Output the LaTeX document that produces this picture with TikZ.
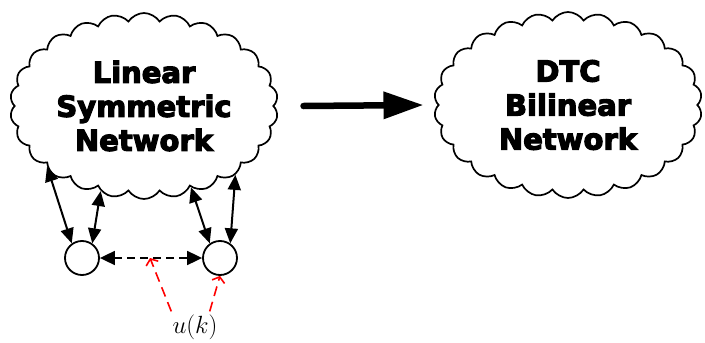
\documentclass[tikz,border=0pt]{standalone}
\usepackage{fontspec}
\newfontfamily\cloudfont[FakeBold=4]{DejaVu Sans Bold}
\usetikzlibrary{shapes.symbols,arrows.meta}
\begin{document}
\begin{tikzpicture}[x=1pt,y=-1pt,
  netcloud/.style={cloud, draw, line width=1.7pt, cloud puffs=26, cloud puff arc=115,
    cloud ignores aspect=false, aspect=1.45,
    minimum width=268pt, minimum height=186pt, inner sep=0pt, align=center,
    font=\cloudfont\fontsize{29}{34}\selectfont},
  unit/.style={circle, draw, line width=1.8pt, minimum size=34pt, inner sep=0pt},
  biarrow/.style={line width=2pt, {Triangle[length=15pt,width=13pt]}-{Triangle[length=15pt,width=13pt]}},
  dasharrow/.style={line width=1.8pt, dash pattern=on 8pt off 5pt,
    {Triangle[length=15pt,width=14pt]}-{Triangle[length=15pt,width=14pt]}},
  redarrow/.style={red, line width=1.6pt, dash pattern=on 10pt off 6pt, -{Straight Barb[length=5pt,width=13pt]}},
  bigarrow/.style={line width=6.5pt, line cap=round, -{Triangle[length=40pt,width=26pt]}}
]
\useasboundingbox (0,0) rectangle (705,343);
\node[netcloud] (L) at (144,106) {Linear\\Symmetric\\Network};
\node[netcloud] (R) at (568,105) {DTC\\Bilinear\\Network};
\node[unit] (c1) at (82,258) {};
\node[unit] (c2) at (220,258) {};
\node[inner sep=0pt, font=\fontsize{27}{32}\selectfont] (uk) at (195,327) {$u(k)$};
\coordinate (m) at (150,258);

\draw[bigarrow] ([xshift=29pt]L.east) -- ([xshift=-14pt]R.west);
\draw[biarrow] (L.212) -- (c1.125);
\draw[biarrow] (L.243) -- (c1.55);
\draw[biarrow] (L.300) -- (c2.125);
\draw[biarrow] (L.323) -- (c2.55);
\draw[dasharrow] (c1) -- (c2);
\draw[redarrow] ([xshift=-1pt,yshift=3pt]uk.north west) -- (m);
\draw[redarrow] ([xshift=-8pt,yshift=3pt]uk.north east) -- (c2.south);
\end{tikzpicture}
\end{document}
